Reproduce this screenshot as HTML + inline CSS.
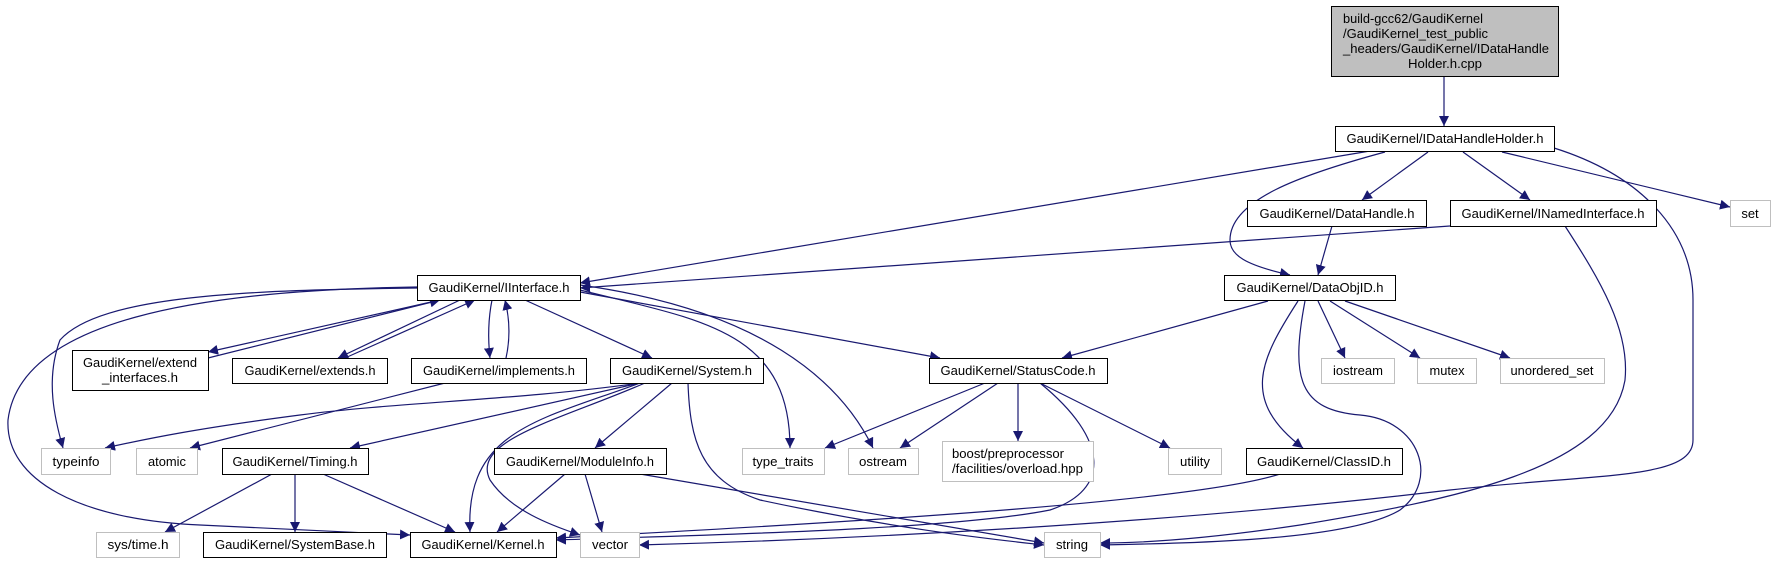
<!DOCTYPE html>
<html><head><meta charset="utf-8"><style>
html,body{margin:0;padding:0;background:#fff}
svg{display:block}
text{font-family:"Liberation Sans",sans-serif;font-size:13px;fill:#000}
</style></head><body>
<svg width="1775" height="563" viewBox="0 0 1775 563" xmlns="http://www.w3.org/2000/svg">
<defs>
<marker id="a" viewBox="0 0 10 10" refX="10" refY="5" markerWidth="10" markerHeight="10" markerUnits="userSpaceOnUse" orient="auto">
<path d="M0,0 L10,5 L0,10 z" fill="#191970"/></marker>
</defs>
<g fill="none" stroke="#191970" stroke-width="1.2" marker-end="url(#a)">
<path d="M1444,76 L1444,126"/>
<path d="M1370,151 L580,283"/>
<path d="M1385,152 C1300,175 1230,200 1230,240 C1230,255 1245,265 1290,275"/>
<path d="M1428,152 L1362,200"/>
<path d="M1463,152 L1530,200"/>
<path d="M1502,152 L1730,207"/>
<path d="M1554,148 C1640,175 1693,230 1693,300 L1693,440 C1693,480 1600,473 1450,490 C1200,520 900,538 639,545"/>
<path d="M1332,226 L1318,275"/>
<path d="M1450,226 L580,288"/>
<path d="M1565,226 C1600,280 1630,330 1625,380 C1610,470 1450,500 1300,525 C1200,540 1140,543 1100,543"/>
<path d="M1268,301 L1062,358"/>
<path d="M1298,301 C1260,360 1240,400 1303,448"/>
<path d="M1305,301 C1290,380 1300,410 1360,415 C1420,420 1440,480 1400,510 C1350,540 1200,543 1100,545"/>
<path d="M1318,301 L1345,358"/>
<path d="M1330,301 L1420,358"/>
<path d="M1345,301 L1510,358"/>
<path d="M440,300 L208,352"/>
<path d="M208,358 L440,300"/>
<path d="M460,300 L338,358"/>
<path d="M345,358 L475,300"/>
<path d="M492,300 C488,320 488,340 490,358"/>
<path d="M506,358 C510,340 510,320 505,300"/>
<path d="M525,300 L652,358"/>
<path d="M580,292 L940,358"/>
<path d="M580,290 C700,320 790,330 790,448"/>
<path d="M580,285 C760,310 840,380 873,448"/>
<path d="M417,288 C250,290 100,295 60,340 C45,380 55,420 63,448"/>
<path d="M417,287 C200,290 20,320 8,420 C5,480 80,520 200,525 L410,535"/>
<path d="M445,383 L190,448"/>
<path d="M640,383 C520,400 400,402 300,415 C200,428 150,438 105,448"/>
<path d="M640,383 L350,448"/>
<path d="M640,383 C540,420 465,430 470,532"/>
<path d="M645,383 C560,420 470,440 490,480 C510,510 550,525 580,535"/>
<path d="M672,383 L595,448"/>
<path d="M688,383 C690,440 700,480 760,500 C900,530 1000,540 1044,545"/>
<path d="M272,474 L165,532"/>
<path d="M295,474 L295,532"/>
<path d="M323,474 L455,532"/>
<path d="M565,474 L497,532"/>
<path d="M585,474 L602,532"/>
<path d="M640,474 L1044,543"/>
<path d="M985,383 L825,448"/>
<path d="M998,383 L900,448"/>
<path d="M1018,383 L1018,441"/>
<path d="M1040,383 L1170,448"/>
<path d="M1040,383 C1110,440 1110,490 1050,510 C950,530 700,535 556,540"/>
<path d="M1280,474 C1200,500 900,520 556,538"/>
</g>
<g stroke-width="1">
<rect x="1331.5" y="6.5" width="227" height="70" fill="#bfbfbf" stroke="#000"/>
<rect x="1335.5" y="126.5" width="219" height="25" fill="#fff" stroke="#000"/>
<rect x="1247.5" y="200.5" width="179" height="26" fill="#fff" stroke="#000"/>
<rect x="1450.5" y="200.5" width="206" height="26" fill="#fff" stroke="#000"/>
<rect x="1730.5" y="200.5" width="40" height="26" fill="#fff" stroke="#bfbfbf"/>
<rect x="1224.5" y="275.5" width="171" height="25" fill="#fff" stroke="#000"/>
<rect x="417.5" y="275.5" width="163" height="25" fill="#fff" stroke="#000"/>
<rect x="72.5" y="350.5" width="136" height="40" fill="#fff" stroke="#000"/>
<rect x="232.5" y="358.5" width="155" height="25" fill="#fff" stroke="#000"/>
<rect x="411.5" y="358.5" width="175" height="25" fill="#fff" stroke="#000"/>
<rect x="610.5" y="358.5" width="153" height="25" fill="#fff" stroke="#000"/>
<rect x="929.5" y="358.5" width="178" height="25" fill="#fff" stroke="#000"/>
<rect x="1321.5" y="358.5" width="73" height="25" fill="#fff" stroke="#bfbfbf"/>
<rect x="1417.5" y="358.5" width="59" height="25" fill="#fff" stroke="#bfbfbf"/>
<rect x="1500.5" y="358.5" width="104" height="25" fill="#fff" stroke="#bfbfbf"/>
<rect x="41.5" y="448.5" width="69" height="26" fill="#fff" stroke="#bfbfbf"/>
<rect x="136.5" y="448.5" width="61" height="26" fill="#fff" stroke="#bfbfbf"/>
<rect x="222.5" y="448.5" width="146" height="26" fill="#fff" stroke="#000"/>
<rect x="494.5" y="448.5" width="172" height="26" fill="#fff" stroke="#000"/>
<rect x="742.5" y="448.5" width="82" height="26" fill="#fff" stroke="#bfbfbf"/>
<rect x="848.5" y="448.5" width="70" height="26" fill="#fff" stroke="#bfbfbf"/>
<rect x="942.5" y="441.5" width="151" height="40" fill="#fff" stroke="#bfbfbf"/>
<rect x="1168.5" y="448.5" width="53" height="26" fill="#fff" stroke="#bfbfbf"/>
<rect x="1246.5" y="448.5" width="156" height="26" fill="#fff" stroke="#000"/>
<rect x="96.5" y="532.5" width="83" height="25" fill="#fff" stroke="#bfbfbf"/>
<rect x="203.5" y="532.5" width="183" height="25" fill="#fff" stroke="#000"/>
<rect x="410.5" y="532.5" width="146" height="25" fill="#fff" stroke="#000"/>
<rect x="580.5" y="532.5" width="59" height="25" fill="#fff" stroke="#bfbfbf"/>
<rect x="1044.5" y="532.5" width="56" height="25" fill="#fff" stroke="#bfbfbf"/>
</g>
<g lengthAdjust="spacingAndGlyphs">
<text x="1343" y="23" textLength="140" lengthAdjust="spacingAndGlyphs">build-gcc62/GaudiKernel</text>
<text x="1343" y="38" textLength="145" lengthAdjust="spacingAndGlyphs">/GaudiKernel_test_public</text>
<text x="1343" y="53" textLength="206" lengthAdjust="spacingAndGlyphs">_headers/GaudiKernel/IDataHandle</text>
<text x="1445" y="68" text-anchor="middle" textLength="74" lengthAdjust="spacingAndGlyphs">Holder.h.cpp</text>
<text x="1445" y="143" text-anchor="middle" textLength="197" lengthAdjust="spacingAndGlyphs">GaudiKernel/IDataHandleHolder.h</text>
<text x="1337" y="218" text-anchor="middle" textLength="155" lengthAdjust="spacingAndGlyphs">GaudiKernel/DataHandle.h</text>
<text x="1553" y="218" text-anchor="middle" textLength="183" lengthAdjust="spacingAndGlyphs">GaudiKernel/INamedInterface.h</text>
<text x="1750" y="218" text-anchor="middle">set</text>
<text x="1310" y="292" text-anchor="middle" textLength="147" lengthAdjust="spacingAndGlyphs">GaudiKernel/DataObjID.h</text>
<text x="499" y="292" text-anchor="middle" textLength="141" lengthAdjust="spacingAndGlyphs">GaudiKernel/IInterface.h</text>
<text x="140" y="367" text-anchor="middle" textLength="114" lengthAdjust="spacingAndGlyphs">GaudiKernel/extend</text>
<text x="140" y="382" text-anchor="middle" textLength="76" lengthAdjust="spacingAndGlyphs">_interfaces.h</text>
<text x="310" y="375" text-anchor="middle" textLength="131" lengthAdjust="spacingAndGlyphs">GaudiKernel/extends.h</text>
<text x="499" y="375" text-anchor="middle" textLength="152" lengthAdjust="spacingAndGlyphs">GaudiKernel/implements.h</text>
<text x="687" y="375" text-anchor="middle" textLength="130" lengthAdjust="spacingAndGlyphs">GaudiKernel/System.h</text>
<text x="1018" y="375" text-anchor="middle" textLength="155" lengthAdjust="spacingAndGlyphs">GaudiKernel/StatusCode.h</text>
<text x="1358" y="375" text-anchor="middle" textLength="50" lengthAdjust="spacingAndGlyphs">iostream</text>
<text x="1447" y="375" text-anchor="middle" textLength="35" lengthAdjust="spacingAndGlyphs">mutex</text>
<text x="1552" y="375" text-anchor="middle" textLength="83" lengthAdjust="spacingAndGlyphs">unordered_set</text>
<text x="76" y="466" text-anchor="middle" textLength="47" lengthAdjust="spacingAndGlyphs">typeinfo</text>
<text x="167" y="466" text-anchor="middle" textLength="38" lengthAdjust="spacingAndGlyphs">atomic</text>
<text x="295" y="466" text-anchor="middle" textLength="125" lengthAdjust="spacingAndGlyphs">GaudiKernel/Timing.h</text>
<text x="580" y="466" text-anchor="middle" textLength="148" lengthAdjust="spacingAndGlyphs">GaudiKernel/ModuleInfo.h</text>
<text x="783" y="466" text-anchor="middle" textLength="61" lengthAdjust="spacingAndGlyphs">type_traits</text>
<text x="883" y="466" text-anchor="middle" textLength="48" lengthAdjust="spacingAndGlyphs">ostream</text>
<text x="952" y="458" textLength="112" lengthAdjust="spacingAndGlyphs">boost/preprocessor</text>
<text x="952" y="473" textLength="131" lengthAdjust="spacingAndGlyphs">/facilities/overload.hpp</text>
<text x="1195" y="466" text-anchor="middle" textLength="30" lengthAdjust="spacingAndGlyphs">utility</text>
<text x="1324" y="466" text-anchor="middle" textLength="134" lengthAdjust="spacingAndGlyphs">GaudiKernel/ClassID.h</text>
<text x="138" y="549" text-anchor="middle" textLength="61" lengthAdjust="spacingAndGlyphs">sys/time.h</text>
<text x="295" y="549" text-anchor="middle" textLength="160" lengthAdjust="spacingAndGlyphs">GaudiKernel/SystemBase.h</text>
<text x="483" y="549" text-anchor="middle" textLength="123" lengthAdjust="spacingAndGlyphs">GaudiKernel/Kernel.h</text>
<text x="610" y="549" text-anchor="middle" textLength="36" lengthAdjust="spacingAndGlyphs">vector</text>
<text x="1072" y="549" text-anchor="middle" textLength="32" lengthAdjust="spacingAndGlyphs">string</text>
</g>
</svg>
</body></html>
